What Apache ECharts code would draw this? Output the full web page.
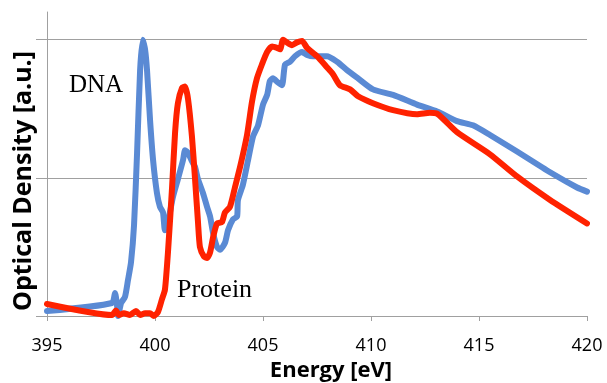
<!DOCTYPE html>
<html>
<head>
<meta charset="utf-8">
<script src="https://cdn.jsdelivr.net/npm/echarts@6/dist/echarts.min.js"></script>
<style>
  html, body { margin: 0; padding: 0; background: #fff; }
  #chart { width: 607px; height: 383px; }
</style>
</head>
<body>
<div id="chart"></div>
<script>
// DNA spectrum (energy in eV, optical density in a.u.)
const dnaEnergy = [395.00, 398.01, 398.15, 398.24, 398.29, 398.43, 398.61, 398.75, 398.89, 399.03,
  399.17, 399.31, 399.43, 399.54, 399.63, 399.77, 399.91, 400.09, 400.23, 400.37,
  400.46, 400.60, 400.83, 401.06, 401.30, 401.39, 401.53, 401.71, 401.85, 401.99,
  402.22, 402.41, 402.55, 402.69, 402.87, 403.01, 403.24, 403.38, 403.61, 403.80,
  403.84, 404.07, 404.31, 404.54, 404.77, 405.00, 405.19, 405.32, 405.46, 405.69,
  405.88, 406.02, 406.25, 406.48, 406.81, 407.04, 407.31, 407.96, 408.43, 408.89,
  409.40, 410.09, 411.02, 412.13, 413.06, 413.98, 414.72, 415.51, 416.76, 418.29,
  419.54, 420.00]
const dnaOD = [0.036, 0.094, 0.167, 0.08, 0.0, 0.094, 0.138, 0.26, 0.39, 0.66,
  1.18, 1.78, 2.0, 1.93, 1.78, 1.42, 1.13, 0.89, 0.79, 0.75,
  0.62, 0.68, 0.86, 0.99, 1.13, 1.20, 1.18, 1.12, 1.08, 0.99,
  0.89, 0.79, 0.72, 0.60, 0.50, 0.48, 0.53, 0.62, 0.70, 0.72,
  0.84, 0.95, 1.13, 1.30, 1.38, 1.53, 1.60, 1.70, 1.72, 1.69,
  1.67, 1.82, 1.84, 1.88, 1.91, 1.89, 1.88, 1.88, 1.84, 1.78,
  1.72, 1.64, 1.60, 1.53, 1.48, 1.41, 1.38, 1.31, 1.19, 1.04,
  0.93, 0.90]

// Protein spectrum
const proteinEnergy = [395.00, 398.01, 398.19, 398.33, 398.56, 398.84, 399.12, 399.31, 399.54, 399.77,
  399.95, 400.14, 400.32, 400.46, 400.60, 400.79, 400.93, 401.06, 401.25, 401.39,
  401.53, 401.71, 401.85, 401.99, 402.08, 402.27, 402.41, 402.55, 402.69, 402.87,
  403.10, 403.24, 403.47, 403.70, 403.94, 404.26, 404.49, 404.72, 404.95, 405.19,
  405.42, 405.65, 405.79, 405.93, 406.11, 406.34, 406.57, 406.81, 407.04, 407.50,
  407.96, 408.24, 408.56, 409.03, 409.40, 410.09, 411.02, 412.13, 412.73, 413.10,
  413.98, 415.51, 416.76, 418.29, 420.00]
const proteinOD = [0.087, 0.007, 0.04, 0.007, 0.02, 0.007, 0.036, 0.007, 0.02, 0.02,
  0.0, 0.03, 0.12, 0.19, 0.46, 0.93, 1.33, 1.54, 1.65, 1.66,
  1.57, 1.30, 1.00, 0.68, 0.50, 0.43, 0.42, 0.46, 0.57, 0.67,
  0.68, 0.75, 0.79, 0.93, 1.08, 1.31, 1.55, 1.72, 1.82, 1.91,
  1.95, 1.94, 1.93, 2.0, 1.98, 1.96, 1.98, 1.99, 1.94, 1.88,
  1.80, 1.75, 1.67, 1.64, 1.59, 1.54, 1.49, 1.46, 1.47, 1.46,
  1.33, 1.17, 1.01, 0.84, 0.67]

const xTicks = [395, 400, 405, 410, 415, 420]
const yTicks = [0, 1, 2]

const pairs = (xs, ys) => xs.map((x, i) => [x, ys[i]])

const chart = echarts.init(document.getElementById('chart'))

chart.setOption({
  animation: false,
  grid: { left: 47, right: 20, top: 12, bottom: 67, outerBoundsMode: 'none', containLabel: false },
  xAxis: {
    type: 'value',
    min: xTicks[0],
    max: xTicks[xTicks.length - 1],
    interval: 5,
    name: 'Energy [eV]',
    nameLocation: 'middle',
    nameGap: 42,
    nameTextStyle: {
      fontFamily: 'Open Sans',
      fontWeight: 'bold',
      fontSize: 22,
      color: '#000',
      padding: [0, 0, 0, 28]
    },
    axisLine: { lineStyle: { color: '#a0a0a0', width: 1 } },
    axisTick: { inside: false, length: 5, lineStyle: { color: '#a0a0a0' } },
    axisLabel: { fontFamily: 'Open Sans', fontSize: 18, color: '#000', margin: 21 },
    splitLine: { show: false }
  },
  yAxis: {
    type: 'value',
    min: 0,
    max: 2.2,
    interval: 1,
    axisLine: { show: true, lineStyle: { color: '#a0a0a0', width: 1 } },
    axisTick: { show: true, length: 11, customValues: yTicks, lineStyle: { color: '#a0a0a0' } },
    axisLabel: { show: false },
    splitLine: { show: true, lineStyle: { color: '#a0a0a0', width: 1 } }
  },
  series: [
    {
      name: 'DNA',
      type: 'line',
      data: pairs(dnaEnergy, dnaOD),
      showSymbol: false,
      smooth: 0.2,
      lineStyle: { color: '#5a8ad4', width: 6, cap: 'round', join: 'round' },
      z: 2
    },
    {
      name: 'Protein',
      type: 'line',
      data: pairs(proteinEnergy, proteinOD),
      showSymbol: false,
      smooth: 0.2,
      lineStyle: { color: '#ff2200', width: 6, cap: 'round', join: 'round' },
      z: 3
    }
  ],
  graphic: [
    {
      type: 'text',
      x: 24,
      y: 181,
      rotation: Math.PI / 2,
      style: {
        text: 'Optical Density [a.u.]',
        font: 'bold 25px "Open Sans"',
        fill: '#000',
        align: 'center',
        verticalAlign: 'middle'
      }
    },
    {
      type: 'text',
      left: 69,
      top: 73,
      style: { text: 'DNA', font: '25px "Liberation Serif"', fill: '#000' }
    },
    {
      type: 'text',
      left: 177,
      top: 277,
      style: { text: 'Protein', font: '26px "Liberation Serif"', fill: '#000' }
    }
  ]
})
</script>
</body>
</html>
